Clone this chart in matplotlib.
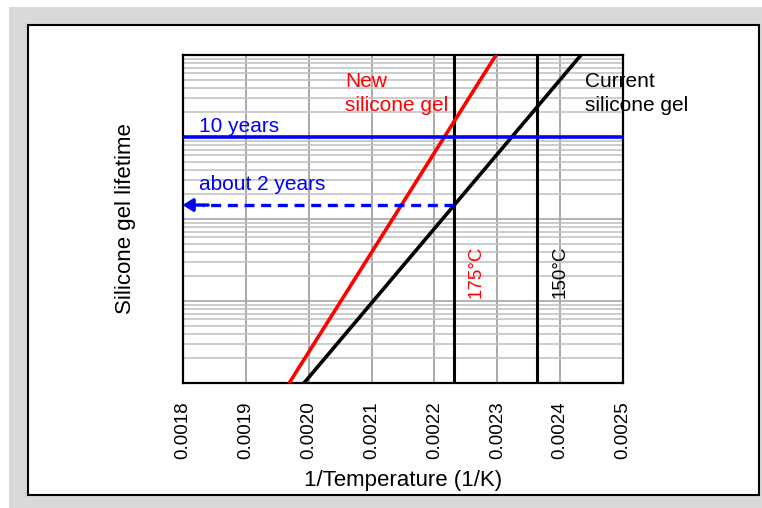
import numpy as np
import matplotlib
matplotlib.use("Agg")
import matplotlib.pyplot as plt
from matplotlib.patches import Rectangle
from matplotlib.ticker import LogLocator, NullFormatter, MultipleLocator

# --- data ---
new_gel_x = [0.001969, 0.002298]      # 1/T (1/K)
new_gel_y = [0.01, 100.0]             # lifetime (years)
current_gel_x = [0.0019925, 0.0024332]
current_gel_y = [0.01, 100.0]
temps_c = [175, 150]
temp_colors = ["red", "black"]
ten_years = 10.0
about_two_years = 1.48
x_ticks = [0.0018, 0.0019, 0.0020, 0.0021, 0.0022, 0.0023, 0.0024, 0.0025]

inv_t = [1.0 / (t + 273.15) for t in temps_c]

plt.rcParams['font.family'] = ['Liberation Sans', 'DejaVu Sans']

fig = plt.figure(figsize=(7.62, 5.08), dpi=100)
# gray frame and white panel with black border
fig.patches.append(Rectangle((9 / 762, 0), 753 / 762, 501 / 508, transform=fig.transFigure,
                             facecolor="#d9d9d9", edgecolor="none", zorder=-2))
fig.patches.append(Rectangle((28 / 762, 13 / 508), 731 / 762, 470 / 508, transform=fig.transFigure,
                             facecolor="white", edgecolor="black", lw=1.5, zorder=-1))

ax = fig.add_axes([183 / 762, 125 / 508, 440 / 762, 328 / 508])
ax.set_xlim(0.0018, 0.0025)
ax.set_yscale("log")
ax.set_ylim(0.01, 100)

# grid
ax.xaxis.set_major_locator(MultipleLocator(0.0001))
ax.set_xticks(x_ticks)
ax.set_xticklabels([f"{v:.4f}" for v in x_ticks], rotation=90, fontsize=13.5)
ax.yaxis.set_major_locator(LogLocator(base=10, numticks=10))
ax.yaxis.set_minor_locator(LogLocator(base=10, subs=np.arange(2, 10), numticks=20))
ax.yaxis.set_major_formatter(NullFormatter())
ax.yaxis.set_minor_formatter(NullFormatter())
ax.tick_params(axis="both", which="both", length=0)
ax.tick_params(axis="x", pad=13)
ax.grid(True, axis="x", which="major", color="#9a9a9a", lw=1.2)
ax.grid(True, axis="y", which="major", color="#a8a8a8", lw=1.2)
ax.grid(True, axis="y", which="minor", color="#c4c4c4", lw=1.2)
for s in ax.spines.values():
    s.set_color("black")
    s.set_linewidth(1.6)

# temperature lines
for x in inv_t:
    ax.axvline(x, color="black", lw=2.2, zorder=3)

# lifetime lines
ax.plot(new_gel_x, new_gel_y, color="red", lw=2.6, zorder=4)
ax.plot(current_gel_x, current_gel_y, color="black", lw=2.6, zorder=4)

# 10 years line
ax.axhline(ten_years, color="#0000ff", lw=2.6, zorder=5)

# about 2 years dashed arrow
ax.plot([inv_t[0], 0.00183], [about_two_years, about_two_years], color="#0000ff",
        lw=2.4, ls=(0, (3, 2)), zorder=5)
ax.annotate("", xy=(0.0017995, about_two_years), xytext=(0.00184, about_two_years),
            arrowprops=dict(arrowstyle="-|>,head_length=0.6,head_width=0.38",
                            color="#0000ff", lw=2.4, shrinkA=0, shrinkB=0), zorder=6)

# text labels
ax.text(0.0018254, 13.6, "10 years", color="#0000ff", fontsize=15, va="center", ha="left")
ax.text(0.0018262, 2.67, "about 2 years", color="#0000ff", fontsize=15, va="center", ha="left")
ax.text(0.0020577, 34.0, "New\nsilicone gel", color="red", fontsize=15, va="center",
        ha="left", linespacing=1.3)
ax.text(0.0024395, 34.0, "Current\nsilicone gel", color="black", fontsize=15, va="center",
        ha="left", linespacing=1.3, clip_on=False)
ax.text(0.0022665, 0.23, f"{temps_c[0]}°C", color=temp_colors[0], fontsize=13.5,
        rotation=90, va="center", ha="center")
ax.text(0.0024002, 0.23, f"{temps_c[1]}°C", color=temp_colors[1], fontsize=13.5,
        rotation=90, va="center", ha="center")

ax.set_xlabel("1/Temperature (1/K)", fontsize=16, labelpad=8)
ax.set_ylabel("Silicone gel lifetime", fontsize=16, labelpad=30)

fig.savefig("out.png", dpi=100)
